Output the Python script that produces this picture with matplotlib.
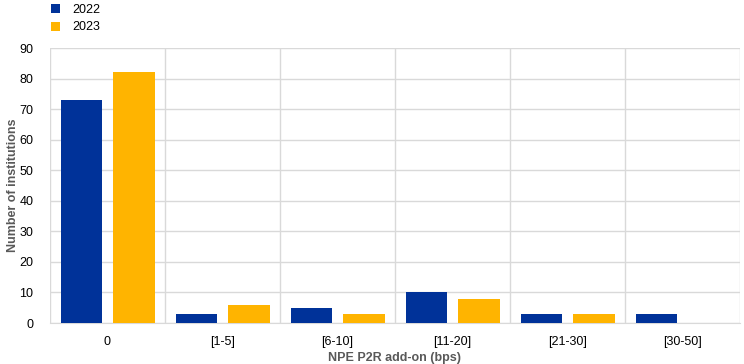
import matplotlib.pyplot as plt
import numpy as np

plt.rcParams['font.family'] = ['Liberation Sans', 'DejaVu Sans']

categories = ['0', '[1-5]', '[6-10]', '[11-20]', '[21-30]', '[30-50]']
vals_2022 = [73, 3, 5, 10, 3, 3]
vals_2023 = [82, 6, 3, 8, 3, 0]

blue = '#003299'
yellow = '#ffb400'
grid = '#d9d9d9'

fig = plt.figure(figsize=(7.44, 3.64), dpi=100)
ax = fig.add_axes([0.0672, 0.1126, 0.9274, 0.7554])

x = np.arange(len(categories))
w = 0.36
ax.bar(x - 0.226, vals_2022, w, color=blue, label='2022', zorder=3)
ax.bar(x + 0.23, vals_2023, w, color=yellow, label='2023', zorder=3)

ax.set_xlim(-0.5, len(categories) - 0.5)
ax.set_ylim(0, 90)
ax.set_yticks(range(0, 91, 10))
ax.set_xticks(x)
ax.set_xticklabels(categories)
ax.set_xticks(np.arange(-0.5, len(categories), 1), minor=True)
ax.grid(True, which='minor', axis='x', color=grid, lw=1, zorder=0)
ax.grid(True, which='major', axis='y', color=grid, lw=1, zorder=0)
ax.tick_params(axis='both', which='both', length=0, labelsize=9, colors='black')
ax.tick_params(axis='x', pad=9)
ax.tick_params(axis='y', pad=12)
for s in ax.spines.values():
    s.set_visible(False)
ax.spines['bottom'].set_visible(True)
ax.spines['bottom'].set_color(grid)

ax.set_ylabel('Number of institutions', fontsize=9, fontweight='bold', color='#595959', labelpad=0.5)
ax.set_xlabel('NPE P2R add-on (bps)', fontsize=9, fontweight='bold', color='#595959', labelpad=3)

fig.legend(loc='upper left', bbox_to_anchor=(0.058, 1.01), frameon=False, fontsize=9,
           handlelength=0.75, handleheight=0.75, handletextpad=1.0, labelspacing=0.45,
           borderaxespad=0.2)

fig.savefig('out.png', dpi=100)
